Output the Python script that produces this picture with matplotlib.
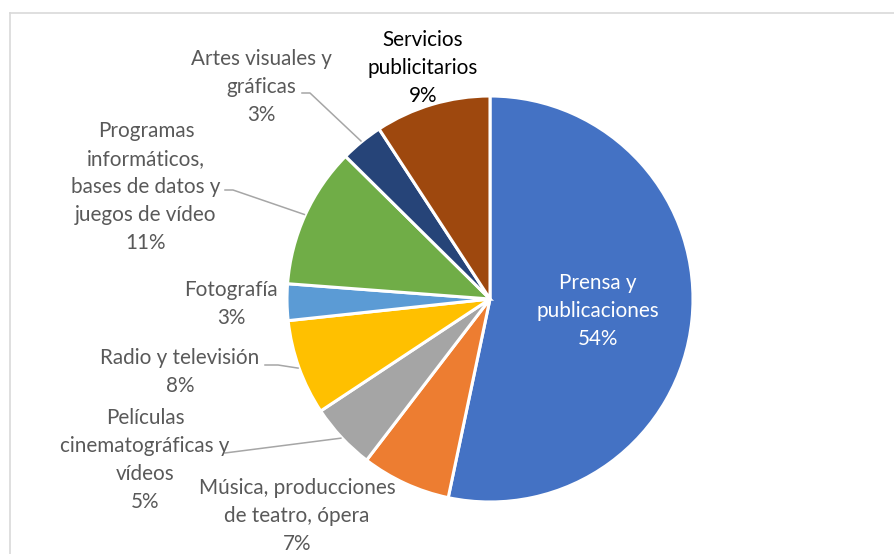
import numpy as np
import matplotlib
matplotlib.use("Agg")
import matplotlib.pyplot as plt
from matplotlib.lines import Line2D

plt.rcParams['font.family'] = ['Lato', 'DejaVu Sans']

categories = ["Prensa y\npublicaciones", "Música, producciones\nde teatro, ópera",
              "Películas\ncinematográficas y\nvídeos", "Radio y televisión",
              "Fotografía", "Programas\ninformáticos,\nbases de datos y\njuegos de vídeo",
              "Artes visuales y\ngráficas", "Servicios\npublicitarios"]
values = [53.3, 7.1, 5.3, 7.6, 2.9, 11.2, 3.4, 9.2]
pct_labels = ["54%", "7%", "5%", "8%", "3%", "11%", "3%", "9%"]
colors = ["#4472C4", "#ED7D31", "#A5A5A5", "#FFC000", "#5B9BD5", "#70AD47", "#264478", "#9E480E"]

W, H = 895, 554
fig = plt.figure(figsize=(W / 100, H / 100), dpi=100)
ax = fig.add_axes([0, 0, 1, 1])

cx, cy, R = 490, H - 299, 203
wedges, _ = ax.pie(values, colors=colors, startangle=90, counterclock=False,
                   center=(cx, cy), radius=R, frame=True,
                   wedgeprops=dict(edgecolor='white', linewidth=2.2))
ax.set_xlim(0, W)
ax.set_ylim(0, H)
ax.set_aspect('equal')
ax.axis('off')

# frame
ax.add_line(Line2D([10, W], [H - 13, H - 13], color='#D9D9D9', lw=1.2))
ax.add_line(Line2D([10, 10], [H - 13, 0], color='#D9D9D9', lw=1.2))

# label layout (pixel centers, y from top), colors, leader start points
label_pos = [(598, 311), (297, 516), (145, 460), (180, 372), (231, 304),
             (146, 187), (261, 87), (423, 68)]
label_col = ['white', '#595959', '#595959', '#595959', '#595959', '#595959', '#595959', 'black']
leader = {2: [(225, 453)], 3: [(265, 365), (278, 365)], 5: [(225, 190), (233, 190)],
          6: [(302, 93), (310, 93)]}

for i, (cat, pct) in enumerate(zip(categories, pct_labels)):
    x, y = label_pos[i]
    ax.text(x, H - y, cat + "\n" + pct, ha='center', va='center', fontsize=14.9,
            color=label_col[i], linespacing=1.51)

cum = np.cumsum([0] + values)
total = sum(values)
for i, pts in leader.items():
    mid = (cum[i] + values[i] / 2) / total
    ang = np.deg2rad(90 - 360 * mid)
    ex, ey = cx + (R + 1) * np.cos(ang), cy + (R + 1) * np.sin(ang)
    xs = [p[0] for p in pts] + [ex]
    ys = [H - p[1] for p in pts] + [ey]
    ax.add_line(Line2D(xs, ys, color='#A6A6A6', lw=1.1))

fig.savefig("out.png", dpi=100)
